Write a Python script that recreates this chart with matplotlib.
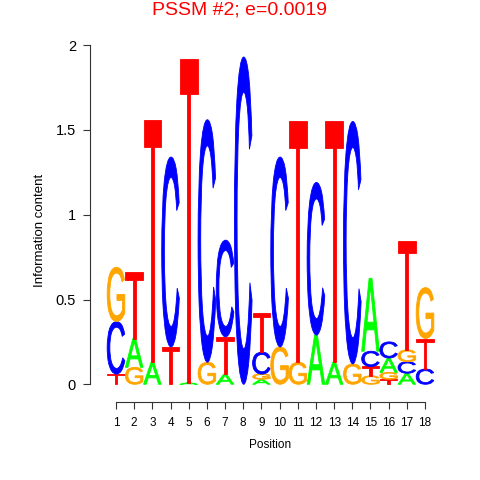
import numpy as np
import matplotlib
matplotlib.use('Agg')
import matplotlib.pyplot as plt
from matplotlib.textpath import TextPath
from matplotlib.patches import PathPatch
from matplotlib.font_manager import FontProperties
from matplotlib.transforms import Affine2D

# information content per letter
positions = list(range(1, 19))
letters = ['A', 'C', 'G', 'T']
height_A = [0.00, 0.17, 0.13, 0.00, 0.01, 0.00, 0.06, 0.00, 0.03, 0.00, 0.00, 0.29, 0.13, 0.00, 0.43, 0.085, 0.065, 0.00]
height_C = [0.31, 0.00, 0.00, 1.12, 0.00, 1.43, 0.57, 1.93, 0.13, 1.12, 0.00, 0.90, 0.00, 1.43, 0.09, 0.095, 0.068, 0.09]
height_G = [0.32, 0.10, 0.00, 0.00, 0.00, 0.13, 0.00, 0.00, 0.03, 0.22, 0.13, 0.00, 0.00, 0.12, 0.05, 0.04, 0.07, 0.30]
height_T = [0.06, 0.39, 1.43, 0.22, 1.91, 0.00, 0.22, 0.00, 0.23, 0.00, 1.42, 0.00, 1.42, 0.00, 0.055, 0.03, 0.64, 0.18]
y_ticks = [0, 0.5, 1, 1.5, 2]
y_tick_labels = ['0', '0.5', '1', '1.5', '2']
title = 'PSSM #2; e=0.0019'

colors = {'A': '#00FF00', 'C': '#0000FF', 'G': '#FFA500', 'T': '#FF0000'}
font = FontProperties(family='Liberation Sans', weight='normal')
plt.rcParams['font.family'] = ['Liberation Sans', 'DejaVu Sans']


def draw_letter(ax, ch, x, y, h, w=1.0):
	# stretch the glyph so it fills its box
	tp = TextPath((0, 0), ch, size=1, prop=font)
	ext = tp.get_extents()
	t = Affine2D().translate(-ext.x0, -ext.y0).scale(w / ext.width, h / ext.height).translate(x - w / 2, y)
	ax.add_patch(PathPatch(t.transform_path(tp), facecolor=colors[ch], edgecolor=colors[ch], linewidth=0.6))


fig = plt.figure(figsize=(4.8, 4.8), dpi=100)
ax = fig.add_axes([90 / 480, 1 - 402 / 480, 350 / 480, 357 / 480])

heights = np.array([height_A, height_C, height_G, height_T]).T
for i, pos in enumerate(positions):
	order = np.argsort(heights[i], kind='stable')
	y0 = 0
	for j in order:
		h = heights[i][j]
		if h <= 0:
			continue
		draw_letter(ax, letters[j], pos, y0, h, w=0.97)
		y0 += h

ax.set_xlim(1 - 26 / 18.18, 18 + 15 / 18.18)
ax.set_ylim(-(402 - 384.3) / 169.6, 2 + (384.3 - 169.6 * 2 - 45) / 169.6)
for s in ['top', 'right']:
	ax.spines[s].set_visible(False)
ax.spines['left'].set_bounds(0, 2)
ax.spines['bottom'].set_bounds(1, 18)
for s in ['left', 'bottom']:
	ax.spines[s].set_color('#333333')
	ax.spines[s].set_linewidth(0.8)
ax.set_xticks(positions)
ax.set_xticklabels([str(p) for p in positions], fontsize=8.5)
ax.set_yticks(y_ticks)
ax.set_yticklabels(y_tick_labels, fontsize=10.5)
ax.tick_params(axis='both', direction='out', length=5, width=0.8, color='#333333')
ax.tick_params(axis='x', pad=6)
ax.tick_params(axis='y', pad=5)

fig.text(0.5, 1 - 10 / 480, title, color='red', fontsize=14, ha='center', va='center')
fig.text(270 / 480, 1 - 445 / 480, 'Position', fontsize=8.5, ha='center', va='center')
fig.text(40 / 480, 1 - 230 / 480, 'Information content', fontsize=9.5, ha='center', va='center', rotation=90)

fig.savefig('out.png', dpi=100)
